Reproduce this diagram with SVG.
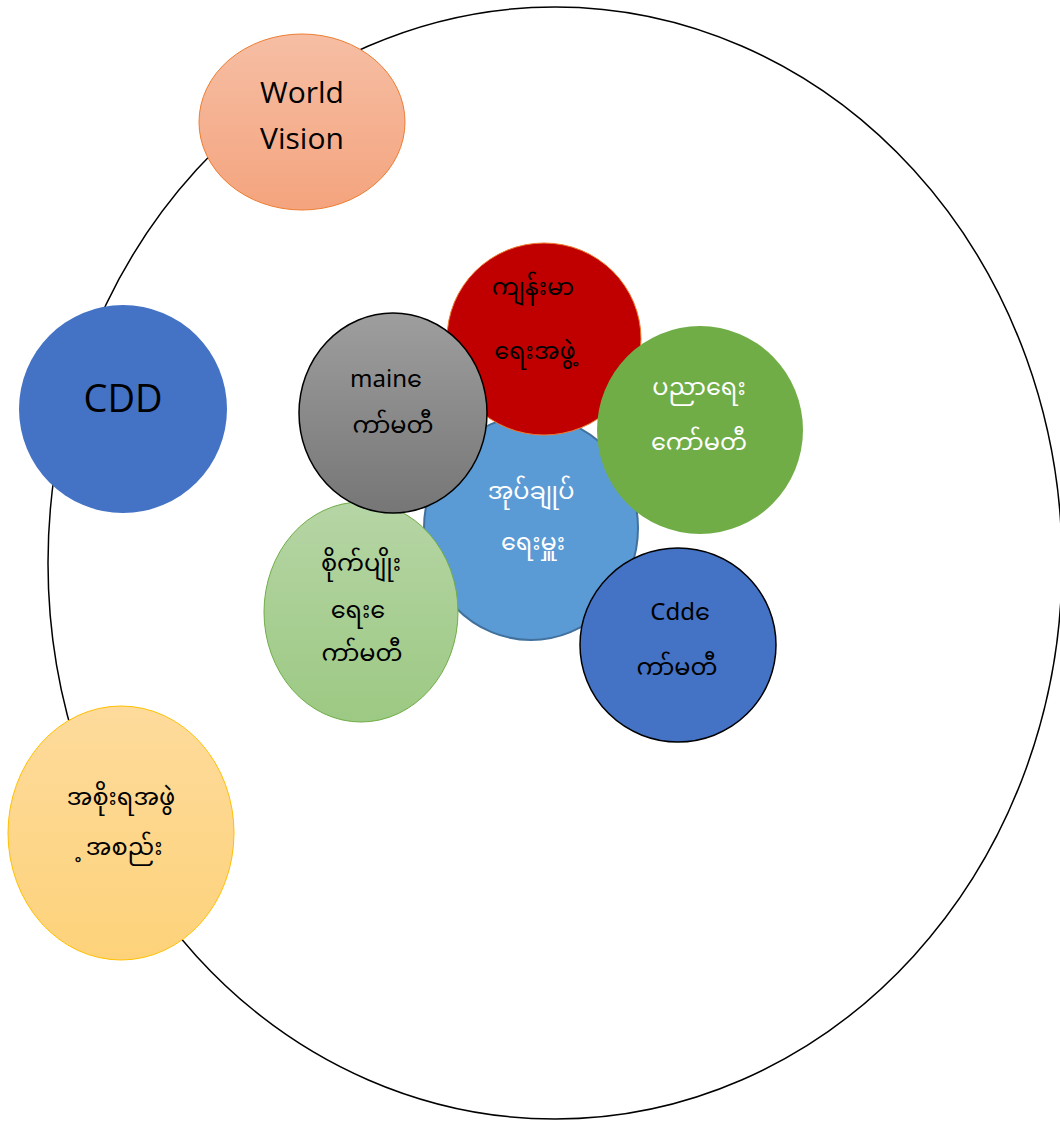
<svg xmlns="http://www.w3.org/2000/svg" width="1060" height="1121" viewBox="0 0 1060 1121">
<defs>
<linearGradient id="gSalmon" x1="0" y1="0" x2="0" y2="1"><stop offset="0" stop-color="#F6BEA4"/><stop offset="1" stop-color="#F4A47E"/></linearGradient>
<linearGradient id="gGold" x1="0" y1="0" x2="0" y2="1"><stop offset="0" stop-color="#FEDB9C"/><stop offset="1" stop-color="#FDD27A"/></linearGradient>
<linearGradient id="gGray" x1="0" y1="0" x2="0" y2="1"><stop offset="0" stop-color="#9E9E9E"/><stop offset="1" stop-color="#767676"/></linearGradient>
<linearGradient id="gLime" x1="0" y1="0" x2="0" y2="1"><stop offset="0" stop-color="#B6D5A5"/><stop offset="1" stop-color="#9CC983"/></linearGradient>
</defs>
<style>
.t{font-family:"Noto Sans Myanmar","Padauk","Myanmar Text","Noto Sans","DejaVu Sans",sans-serif;font-size:24px;text-anchor:middle;fill:#000}
.w{fill:#fff}
.e{text-anchor:end}
.s{text-anchor:start}
.lat{font-family:"Open Sans","Noto Sans","Liberation Sans",sans-serif;text-anchor:middle;fill:#000}
</style>
<g id="boundary"><ellipse cx="555" cy="563" rx="507" ry="556" fill="none" stroke="#000" stroke-width="1.5"/></g>
<g id="connectors"></g>
<g id="worldvision"><ellipse cx="302" cy="122" rx="103" ry="88" fill="url(#gSalmon)" stroke="#ED7D31" stroke-width="1"/>
<text class="lat" x="302" y="103" font-size="30">World</text><text class="lat" x="302" y="149" font-size="30">Vision</text></g>
<g id="cdd"><circle cx="123" cy="409" r="104" fill="#4472C4"/>
<text class="lat" x="123" y="412" font-size="38">CDD</text></g>
<g id="govt"><ellipse cx="121" cy="833" rx="113" ry="127" fill="url(#gGold)" stroke="#FFC000" stroke-width="1"/>
<text class="t" x="121" y="805">အစိုးရအဖွဲ</text><text class="t" x="121" y="855">&#160;့အစည်း</text></g>
<g id="admin"><ellipse cx="531" cy="528" rx="107" ry="112" fill="#5B9BD5" stroke="#41719C" stroke-width="2"/>
<text class="t w" x="531" y="499">အုပ်ချုပ်</text><text class="t w" x="533" y="550">ရေးမှူး</text></g>
<g id="health"><ellipse cx="544" cy="339" rx="97" ry="96" fill="#C00000" stroke="#ED7D31" stroke-width="1"/>
<text class="t" x="533" y="295">ကျန်းမာ</text><text class="t" x="535" y="359">ရေးအဖွဲ့</text></g>
<g id="agri"><ellipse cx="361" cy="612" rx="97" ry="110" fill="url(#gLime)" stroke="#70AD47" stroke-width="1"/>
<text class="t" x="361" y="571">စိုက်ပျိုး</text><text class="t" x="361" y="618">ရေး&#160;ေ</text><text class="t" x="362" y="661">ကာ်မတီ</text></g>
<g id="main"><ellipse cx="393" cy="413" rx="94" ry="100" fill="url(#gGray)" stroke="#000" stroke-width="1.5"/>
<text class="t e" x="407" y="387" font-size="26">main</text><text class="t s" x="407" y="387" font-size="26">&#160;ေ</text><text class="t" x="393" y="433" font-size="27">ကာ်မတီ</text></g>
<g id="edu"><ellipse cx="700" cy="430" rx="103" ry="104" fill="#70AD47"/>
<text class="t w" x="699" y="395">ပညာရေး</text><text class="t w" x="699" y="450">ကော်မတီ</text></g>
<g id="cddcom"><ellipse cx="678" cy="645" rx="98" ry="97" fill="#4472C4" stroke="#000" stroke-width="1.5"/>
<text class="t e" x="695" y="620" font-size="27">Cdd</text><text class="t s" x="695" y="620" font-size="27">&#160;ေ</text><text class="t" x="677" y="675" font-size="30">ကာ်မတီ</text></g>
</svg>
